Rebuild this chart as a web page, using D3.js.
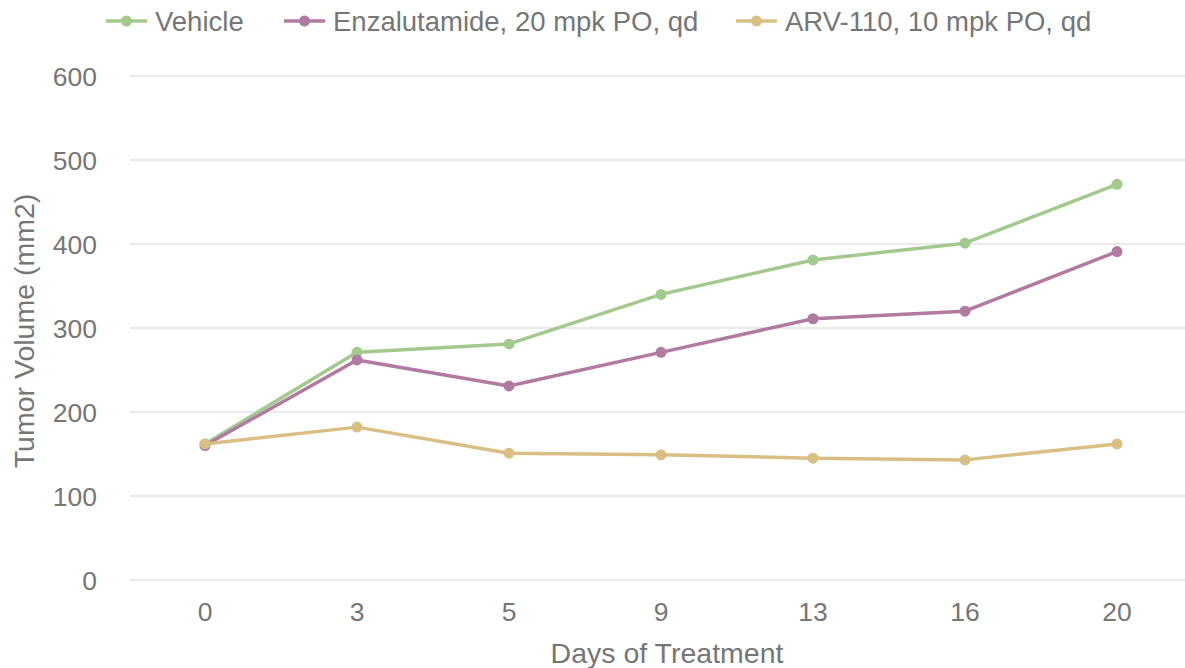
<!DOCTYPE html>
<html lang="en">
<head>
  <meta charset="UTF-8">
  <title>Tumor Volume</title>
  <style>
    body {
      margin: 0;
      background: #fff;
      font-family: "Liberation Sans", Arial, sans-serif;
      overflow: hidden;
    }
    .tick text {
      fill: #767676;
      font-size: 26.5px;
    }
    .axis-title {
      fill: #767676;
      font-size: 28.5px;
    }
    .legend text {
      fill: #767676;
      font-size: 27.5px;
    }
  </style>
</head>
<body>
  <svg id="chart" width="1185" height="668"></svg>

  <script src="https://d3js.org/d3.v7.min.js"></script>
  <script>
    // chart data
    const days = ["0", "3", "5", "9", "13", "16", "20"];
    const vehicle = [162, 271, 281, 340, 381, 401, 471];
    const enzalutamide = [160, 262, 231, 271, 311, 320, 391];
    const arv110 = [162, 182, 151, 149, 145, 143, 162];
    const yTicks = [0, 100, 200, 300, 400, 500, 600];

    const series = [
      { name: "Vehicle", values: vehicle, color: "#a3c98f" },
      { name: "Enzalutamide, 20 mpk PO, qd", values: enzalutamide, color: "#b07aa1" },
      { name: "ARV-110, 10 mpk PO, qd", values: arv110, color: "#d9bf83" }
    ];

    const svg = d3.select("#chart");

    const x = d3.scaleBand().domain(days).range([129, 1193]);
    const y = d3.scaleLinear().domain([0, 600]).range([580, 76]);

    // horizontal gridlines
    svg.append("g")
      .selectAll("line")
      .data(yTicks)
      .join("line")
      .attr("x1", 130)
      .attr("x2", 1185)
      .attr("y1", d => y(d))
      .attr("y2", d => y(d))
      .attr("stroke", "#e3e3e3")
      .attr("stroke-width", 1.5);

    // y axis labels
    const yAxis = svg.append("g")
      .attr("transform", "translate(97,0)")
      .call(d3.axisLeft(y).tickValues(yTicks).tickSize(0).tickPadding(0));
    yAxis.select(".domain").remove();
    yAxis.selectAll("text").attr("dy", "0.36em");

    // x axis labels
    const xAxis = svg.append("g")
      .attr("transform", "translate(0,580)")
      .call(d3.axisBottom(x).tickSize(0).tickPadding(22));
    xAxis.select(".domain").remove();

    // axis titles
    svg.append("text")
      .attr("class", "axis-title")
      .attr("x", 667)
      .attr("y", 663)
      .attr("text-anchor", "middle")
      .text("Days of Treatment");

    svg.append("text")
      .attr("class", "axis-title")
      .attr("transform", "translate(34,331) rotate(-90)")
      .attr("text-anchor", "middle")
      .text("Tumor Volume (mm2)");

    // lines and markers
    const cx = i => x(days[i]) + x.bandwidth() / 2;
    const line = d3.line()
      .x((d, i) => cx(i))
      .y(d => y(d));

    series.forEach(s => {
      svg.append("path")
        .datum(s.values)
        .attr("fill", "none")
        .attr("stroke", s.color)
        .attr("stroke-width", 3.5)
        .attr("stroke-linejoin", "round")
        .attr("d", line);

      svg.append("g")
        .selectAll("circle")
        .data(s.values)
        .join("circle")
        .attr("cx", (d, i) => cx(i))
        .attr("cy", d => y(d))
        .attr("r", 5.5)
        .attr("fill", s.color);
    });

    // legend
    const legendX = [106, 284, 736];
    const legend = svg.append("g").attr("class", "legend");
    series.forEach((s, i) => {
      const g = legend.append("g").attr("transform", `translate(${legendX[i]},21)`);
      g.append("line")
        .attr("x1", 0).attr("x2", 41)
        .attr("stroke", s.color)
        .attr("stroke-width", 3.5);
      g.append("circle")
        .attr("cx", 20.5)
        .attr("r", 5.5)
        .attr("fill", s.color);
      g.append("text")
        .attr("x", 49)
        .attr("dy", "0.36em")
        .text(s.name);
    });
  </script>
</body>
</html>
